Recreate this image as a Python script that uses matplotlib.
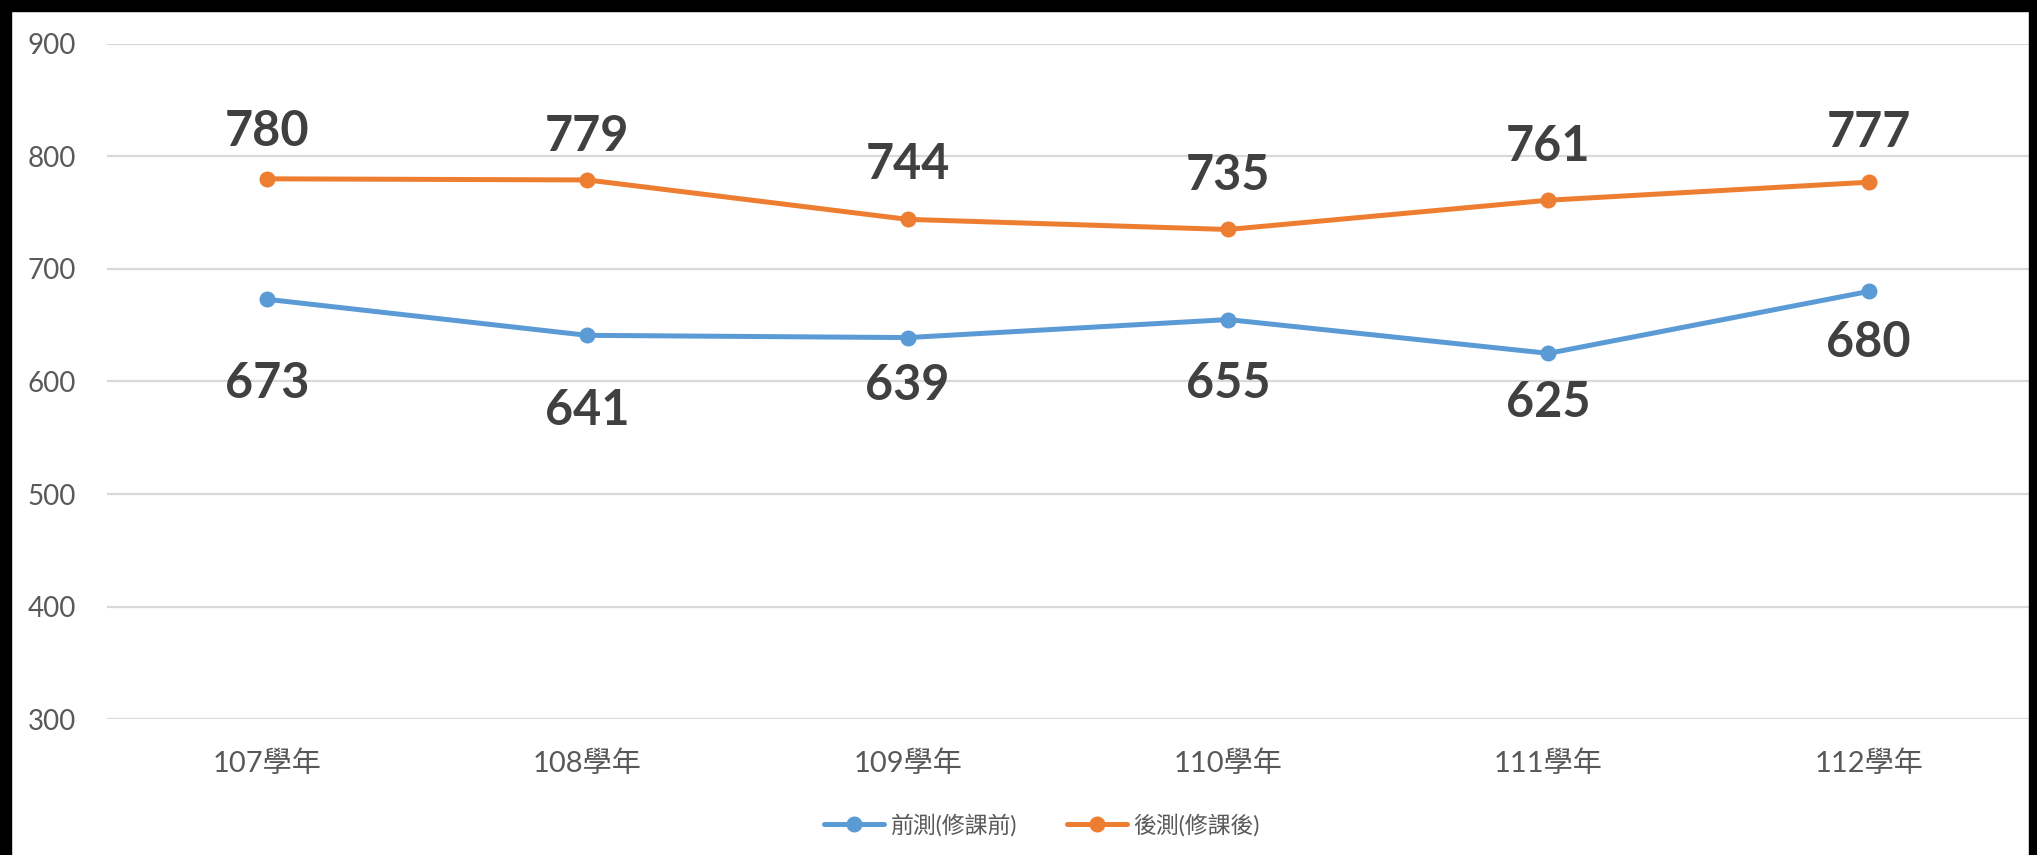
import matplotlib
matplotlib.use("Agg")
import matplotlib.pyplot as plt
from matplotlib.patches import Rectangle

# 資料
years = ["107學年", "108學年", "109學年", "110學年", "111學年", "112學年"]
pre_test = [673, 641, 639, 655, 625, 680]
post_test = [780, 779, 744, 735, 761, 777]
pre_name = "前測(修課前)"
post_name = "後測(修課後)"
y_ticks = [300, 400, 500, 600, 700, 800, 900]

# 標籤與資料點的距離 (px, 依原圖手動擺放)
post_gap = [50, 46, 58, 57, 57, 53]
pre_gap = [81, 72, 45, 61, 46, 48]

BLUE = "#5B9BD5"
ORANGE = "#ED7D31"
plt.rcParams["font.family"] = ["Lato", "Noto Sans CJK TC", "DejaVu Sans"]

W, H = 2037, 855
PX = 72 / 100  # px -> pt
fig = plt.figure(figsize=(W / 100, H / 100), dpi=100)
ax = fig.add_axes([106.7 / W, 1 - 719.3 / H, (2029 - 106.7) / W, (719.3 - 43.7) / H])

x = list(range(len(years)))
ax.plot(x, pre_test, color=BLUE, lw=3.6, marker="o", ms=10.5, label=pre_name,
        solid_capstyle="round", zorder=3)
ax.plot(x, post_test, color=ORANGE, lw=3.6, marker="o", ms=10.5, label=post_name,
        solid_capstyle="round", zorder=3)

half = 17.5  # 數字高度的一半 (px)
for i, v in enumerate(post_test):
    ax.annotate(str(v), (i, v), xytext=(0, (post_gap[i] - half) * PX), textcoords="offset points",
                ha="center", va="baseline", fontsize=35, fontweight="bold", color="#404040")
for i, v in enumerate(pre_test):
    ax.annotate(str(v), (i, v), xytext=(0, -(pre_gap[i] + half) * PX), textcoords="offset points",
                ha="center", va="baseline", fontsize=35, fontweight="bold", color="#404040")

ax.set_xlim(-0.5, len(years) - 0.5)
ax.set_ylim(300, 900)
ax.set_yticks(y_ticks)
ax.set_xticks(x)
ax.set_xticklabels(years)
ax.grid(axis="y", color="#D9D9D9", lw=1.6)
ax.set_axisbelow(True)
for s in ax.spines.values():
    s.set_visible(False)
ax.tick_params(axis="both", length=0, labelcolor="#595959")
ax.tick_params(axis="y", pad=22, labelsize=20)
ax.tick_params(axis="x", pad=22, labelsize=21)

leg = fig.legend(loc="center", bbox_to_anchor=(1042 / W, 1 - 825 / H), ncol=2,
                 frameon=False, fontsize=16.5, handlelength=2.6, columnspacing=2.2,
                 handletextpad=0.3)
for t in leg.get_texts():
    t.set_color("#595959")

# 黑色邊框
for (x0, y0, w, h) in [(0, H - 11, W, 11), (0, 0, 11, H), (W - 8, 0, 8, H)]:
    fig.patches.append(Rectangle((x0 / W, y0 / H), w / W, h / H, transform=fig.transFigure,
                                 color="black", zorder=10))

fig.savefig("out.png", dpi=100, facecolor="white")
